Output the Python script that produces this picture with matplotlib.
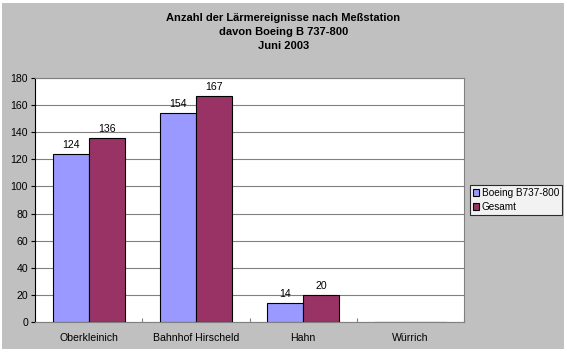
import matplotlib
matplotlib.use("Agg")
import matplotlib.pyplot as plt
from matplotlib.patches import Rectangle
import numpy as np

categories = ["Oberkleinich", "Bahnhof Hirscheld", "Hahn", "Würrich"]
boeing = [124, 154, 14, 0]
gesamt = [136, 167, 20, 0]
labels_show = [True, True, True, False]
series_names = ["Boeing B737-800", "Gesamt"]

plt.rcParams['font.family'] = ['Liberation Sans', 'DejaVu Sans']
FS = 7.6

fig = plt.figure(figsize=(5.67, 3.53), dpi=100, facecolor='white')
fig.patches.append(Rectangle((2/567, 4/353), 562/567, 346/353, transform=fig.transFigure,
                             facecolor='#C0C0C0', edgecolor='none', zorder=-10))

ax = fig.add_axes([35/567, 1-322/353, 429/567, 244/353])
ax.set_facecolor('white')
x = np.arange(len(categories))
w = 36/107
ax.bar(x - w/2, boeing, w, color='#9999FF', edgecolor='black', linewidth=0.8, label=series_names[0], zorder=3)
ax.bar(x + w/2, gesamt, w, color='#993366', edgecolor='black', linewidth=0.8, label=series_names[1], zorder=3)
for i in range(len(categories)):
    if labels_show[i]:
        ax.text(x[i] - w/2, boeing[i] + 3, str(boeing[i]), ha='center', va='bottom', fontsize=FS)
        ax.text(x[i] + w/2, gesamt[i] + 3, str(gesamt[i]), ha='center', va='bottom', fontsize=FS)

ax.set_xlim(-0.5, len(categories) - 0.5)
ax.set_ylim(0, 180)
ax.set_yticks(np.arange(0, 181, 20))
ax.yaxis.grid(True, color='#808080', linewidth=0.8, zorder=0)
ax.set_axisbelow(True)
ax.set_xticks(np.arange(-0.5, len(categories)), minor=False)
ax.set_xticklabels([])
ax.set_xticks(x, minor=True)
ax.set_xticklabels(categories, minor=True, fontsize=FS)
ax.tick_params(axis='x', which='minor', length=0, pad=8)
ax.tick_params(axis='x', which='major', length=3, direction='in', color='#808080')
ax.tick_params(axis='y', labelsize=FS, length=3, direction='out', pad=2)
for s in ['top', 'right']:
    ax.spines[s].set_color('#808080')
ax.spines['bottom'].set_color('#808080')
ax.spines['left'].set_color('black')

fig.text(0.5, 1-13/353, "Anzahl der Lärmereignisse nach Meßstation\ndavon Boeing B 737-800\nJuni 2003",
         ha='center', va='top', fontsize=8, fontweight='bold', linespacing=1.5)

leg = ax.legend(loc='upper left', bbox_to_anchor=(470/567, 1-185/353), bbox_transform=fig.transFigure,
                fontsize=7.2, frameon=True, fancybox=False, edgecolor='black', handlelength=0.6,
                handleheight=0.6, handletextpad=0.3, borderpad=0.3, labelspacing=0.4, borderaxespad=0)
leg.get_frame().set_linewidth(0.8)

fig.savefig("out.png", dpi=100, facecolor=fig.get_facecolor())
